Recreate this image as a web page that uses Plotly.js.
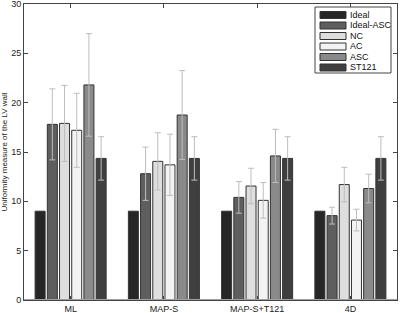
<!DOCTYPE html>
<html>
<head>
<meta charset="utf-8">
<script src="https://cdn.plot.ly/plotly-3.0.1.min.js"></script>
<style>html,body{margin:0;padding:0;background:#fff;}#chart{width:400px;height:313px;}</style>
</head>
<body>
<div id="chart"></div>
<script>
const categories = ["ML", "MAP-S", "MAP-S+T121", "4D"];
const seriesNames = ["Ideal", "Ideal-ASC", "NC", "AC", "ASC", "ST121"];
const ideal = [9.0, 9.0, 9.0, 9.0];
const idealAsc = [17.8, 12.8, 10.4, 8.55];
const nc = [17.9, 14.05, 11.55, 11.7];
const ac = [17.2, 13.7, 10.1, 8.1];
const asc = [21.8, 18.75, 14.6, 11.3];
const st121 = [14.35, 14.35, 14.35, 14.35];
const idealErr = [0, 0, 0, 0];
const idealAscErr = [3.6, 2.7, 1.6, 0.85];
const ncErr = [3.85, 2.9, 1.8, 1.75];
const acErr = [3.75, 3.1, 1.8, 1.1];
const ascErr = [5.2, 4.5, 2.7, 1.45];
const st121Err = [2.2, 2.2, 2.2, 2.2];
const yTicks = [0, 5, 10, 15, 20, 25, 30];

const values = [ideal, idealAsc, nc, ac, asc, st121];
const errs = [idealErr, idealAscErr, ncErr, acErr, ascErr, st121Err];
const colors = ["#262626", "#5e5e5e", "#dedede", "#f3f3f3", "#8a8a8a", "#3f3f3f"];
const xIdx = categories.map((c, i) => i + 1);

const traces = seriesNames.map((name, s) => ({
  type: "bar",
  name: name,
  x: xIdx,
  y: values[s],
  marker: {color: colors[s], line: {color: "#333333", width: 1}},
  error_y: s === 0 ? {visible: false} : {type: "data", array: errs[s], visible: true, color: "#bdbdbd", thickness: 1, width: 3}
}));

// custom compact legend (paper coordinates)
const W = 373, H = 296, L = 24, T = 4;
const px = v => (v - L) / W;
const py = v => (T + H - v) / H;
const shapes = [
  {type: "line", xref: "paper", yref: "y", x0: 0, x1: 1, y0: 0, y1: 0, line: {color: "#a0a0a0", width: 2}},
  {type: "rect", xref: "paper", yref: "paper", x0: px(315), x1: px(391), y0: py(73), y1: py(7),
   fillcolor: "#ffffff", line: {color: "#444", width: 1}}
];
const annotations = [];
seriesNames.forEach((name, s) => {
  const cy = 15 + s * 10.5;
  shapes.push({type: "rect", xref: "paper", yref: "paper", x0: px(320), x1: px(346), y0: py(cy + 3.5), y1: py(cy - 3.5),
               fillcolor: colors[s], line: {color: "#333", width: 1}});
  annotations.push({xref: "paper", yref: "paper", x: px(348), y: py(cy), xanchor: "left", yanchor: "middle",
                    text: name, showarrow: false, font: {size: 9, color: "#111"}});
});

const layout = {
  width: 400, height: 313,
  margin: {l: 24, r: 3, t: 4, b: 13},
  paper_bgcolor: "#ffffff", plot_bgcolor: "#ffffff",
  barmode: "group", bargap: 0.215, bargroupgap: 0.18,
  font: {family: "Liberation Sans, Arial, sans-serif", size: 9, color: "#222"},
  showlegend: false,
  xaxis: {range: [0.5, 4.5], tickvals: xIdx, ticktext: categories, ticks: "inside", ticklen: 4, tickcolor: "#444",
          showline: true, linecolor: "#444", linewidth: 1, mirror: "ticks", showgrid: false, zeroline: false,
          tickfont: {size: 9, color: "#222"}},
  yaxis: {range: [0, 30.0001], tickvals: yTicks, ticks: "inside", ticklen: 4, tickcolor: "#444",
          showline: true, linecolor: "#444", linewidth: 1, mirror: "ticks", showgrid: false, zeroline: false,
          ticklabeloverflow: "allow",
          tickfont: {size: 9, color: "#222"},
          title: {text: "Uniformity measure of the LV wall", font: {size: 8, color: "#222"}, standoff: 5}},
  shapes: shapes,
  annotations: annotations
};

Plotly.newPlot("chart", traces, layout, {displayModeBar: false, staticPlot: true});
</script>
</body>
</html>
